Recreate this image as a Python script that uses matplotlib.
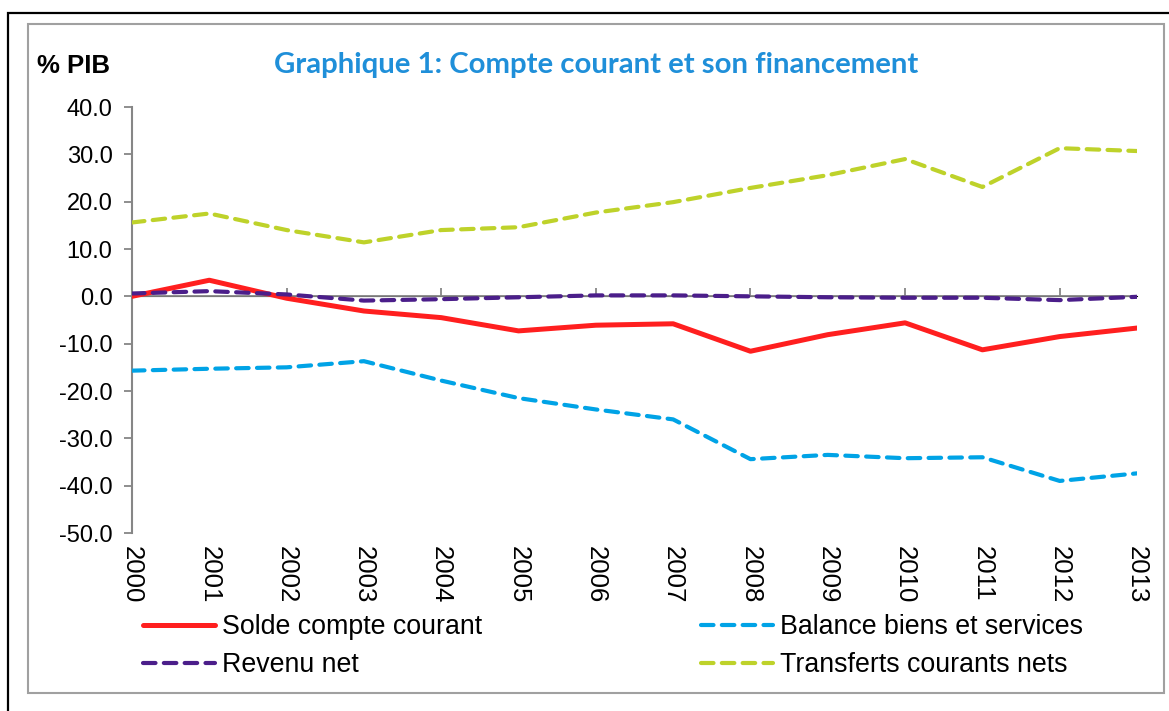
import matplotlib
matplotlib.use("Agg")
from matplotlib import pyplot as plt
from matplotlib.patches import Rectangle

# values (% of GDP)
years = list(range(2000, 2014))
solde = [0.0, 3.4, -0.4, -3.1, -4.5, -7.3, -6.1, -5.8, -11.6, -8.1, -5.6, -11.3, -8.5, -6.7]
balance = [-15.7, -15.3, -15.0, -13.7, -17.8, -21.5, -23.9, -26.0, -34.4, -33.5, -34.2, -34.0, -39.0, -37.4]
revenu = [0.6, 1.1, 0.4, -0.9, -0.6, -0.2, 0.2, 0.2, 0.0, -0.2, -0.3, -0.3, -0.8, -0.1]
transferts = [15.6, 17.5, 14.0, 11.4, 14.0, 14.6, 17.7, 19.9, 22.9, 25.6, 29.0, 23.1, 31.3, 30.7]

series_names = ["Solde compte courant", "Balance biens et services",
                "Revenu net", "Transferts courants nets"]
yticks = [40, 30, 20, 10, 0, -10, -20, -30, -40, -50]

RED = "#FF1F1F"
BLUE = "#00A3E6"
PURPLE = "#4B1E8A"
GREEN = "#BED22A"
GRAY = "#868686"

plt.rcParams["font.family"] = ["Liberation Sans", "DejaVu Sans"]

W, H = 1169, 711
fig = plt.figure(figsize=(W / 100, H / 100), dpi=100)
ax = fig.add_axes([132 / W, 1 - 533 / H, (1137 - 132) / W, (533 - 107) / H])

# frames around the chart
fig.patches.append(Rectangle((8 / W, -0.1), 1.2, 1 - 13 / H + 0.1, transform=fig.transFigure,
                             fill=False, edgecolor="black", linewidth=1.6))
fig.patches.append(Rectangle((28 / W, 1 - 693 / H), (1164 - 28) / W, (693 - 24) / H,
                             transform=fig.transFigure, fill=False, edgecolor="#A0A0A0", linewidth=1.5))

ax.axhline(0, color=GRAY, linewidth=1.3, zorder=1)

dash = dict(linestyle=(0, (3, 2)), dash_capstyle="round", linewidth=3.0)
l1, = ax.plot(years, solde, color=RED, linewidth=3.6, solid_capstyle="round", zorder=3)
l2, = ax.plot(years, balance, color=BLUE, zorder=3, **dash)
l3, = ax.plot(years, revenu, color=PURPLE, zorder=4, **dash)
l4, = ax.plot(years, transferts, color=GREEN, zorder=3, **dash)

ax.set_xlim(2000, 2013)
ax.set_ylim(-50, 40)
ax.set_yticks(yticks)
ax.set_yticklabels([f"{v:.1f}" for v in yticks], fontsize=17)
ax.set_xticks(years)
ax.set_xticklabels([str(y) for y in years], rotation=-90, fontsize=18.5, va="top", ha="center")
ax.tick_params(axis="x", length=0, pad=9)
ax.tick_params(axis="y", direction="out", length=6, width=1.3, color=GRAY, pad=8)

for side in ["top", "right", "bottom"]:
    ax.spines[side].set_visible(False)
ax.spines["left"].set_color(GRAY)
ax.spines["left"].set_linewidth(1.5)

# small tick marks hanging below the zero line every two years
sec = ax.secondary_xaxis(50 / 90)
sec.set_xticks(years[2::2])
sec.set_xticklabels([])
sec.tick_params(direction="out", length=6, width=1.3, color=GRAY)
sec.spines["bottom"].set_visible(False)

fig.text(37 / W, 1 - 66 / H, "% PIB", fontsize=18.5, fontweight="bold", va="center", ha="left")
fig.text(596 / W, 1 - 65 / H, "Graphique 1: Compte courant et son financement",
         fontsize=21.2, fontweight="bold", color="#1F8FD9", family="Lato", va="center", ha="center")

handles = [l1, l3, l2, l4]
labels = [series_names[0], series_names[2], series_names[1], series_names[3]]
fig.legend(handles, labels, ncol=2, loc="upper left", bbox_to_anchor=(143 / W, 1 - 614 / H),
           frameon=False, fontsize=19.3, handlelength=2.7, handletextpad=0.25,
           columnspacing=8.15, labelspacing=0.45, borderpad=0, borderaxespad=0)

fig.savefig("out.png", dpi=100)
